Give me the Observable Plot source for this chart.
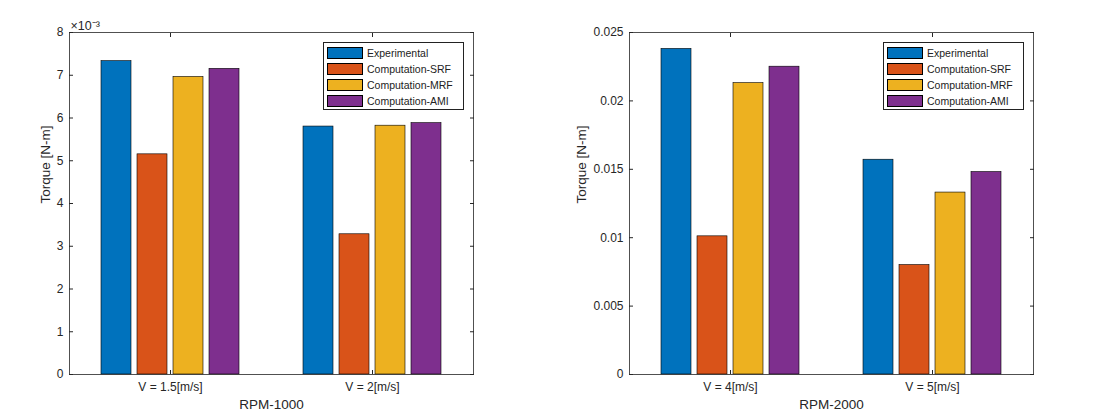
<!DOCTYPE html>
<html><head><meta charset="utf-8">
<script src="https://cdn.jsdelivr.net/npm/d3@7"></script>
<script src="https://cdn.jsdelivr.net/npm/@observablehq/plot@0.6"></script>
<style>
body{margin:0;background:#fff;font-family:"Liberation Sans",Arial,sans-serif;}
#wrap{display:flex;width:1120px;height:420px;}
.panel{position:relative;width:560px;height:420px;}
.legend{position:absolute;left:323px;top:42px;width:133px;height:62px;border:1px solid #222;background:#fff;padding:2px 3px;color:#222;font-size:10.5px;}
.legend .row{display:flex;align-items:center;height:16px;}
.legend .sw{width:36px;height:12px;border:0.6px solid #000;margin-right:4px;box-sizing:border-box;}
</style></head><body><div id="wrap"></div>
<script>
const seriesNames = ["Experimental","Computation-SRF","Computation-MRF","Computation-AMI"];
const seriesColors = ["#0072BD","#D95319","#EDB120","#7E2F8E"];

const groupsA = ["V = 1.5[m/s]","V = 2[m/s]"];
const experimentalA = [0.00733, 0.00580];
const srfA = [0.00515, 0.00328];
const mrfA = [0.00696, 0.00582];
const amiA = [0.00715, 0.00588];
const yTicksA = [0,0.001,0.002,0.003,0.004,0.005,0.006,0.007,0.008];

const groupsB = ["V = 4[m/s]","V = 5[m/s]"];
const experimentalB = [0.0238, 0.0157];
const srfB = [0.0101, 0.0080];
const mrfB = [0.0213, 0.0133];
const amiB = [0.0225, 0.0148];
const yTicksB = [0,0.005,0.01,0.015,0.02,0.025];

function panel(groups, vals, yTicks, fmt, xLabel, yLabelOffset, exponent){
  const rows = [];
  groups.forEach((g,i)=> seriesNames.forEach((s,j)=> rows.push({group:g, series:s, value: vals[j][i]})));
  const marks = [
    Plot.barY(rows,{fx:"group", x:"series", y:"value", fill:"series", stroke:"#000", strokeWidth:0.6}),
    Plot.frame({facet:"super", stroke:"#262626", strokeWidth:0.8}),
    Plot.axisY({anchor:"left", ticks:yTicks, tickSize:-4, tickFormat:()=>"", label:null, stroke:"#262626"}),
    Plot.axisY({anchor:"right", ticks:yTicks, tickSize:-4, tickFormat:()=>"", label:null, stroke:"#262626"}),
    Plot.axisY({anchor:"left", ticks:yTicks, tickSize:0, tickPadding:6, tickFormat:fmt, label:null, fill:"#262626"}),
    Plot.axisFx({anchor:"bottom", tickSize:-4, tickFormat:()=>"", label:null, stroke:"#262626"}),
    Plot.axisFx({anchor:"top", tickSize:-4, tickFormat:()=>"", label:null, stroke:"#262626"}),
    Plot.axisFx({anchor:"bottom", tickSize:0, tickPadding:8, label:null, fill:"#262626"}),
    Plot.text(["Torque [N-m]"], {facet:"super", frameAnchor:"left", text:d=>d, rotate:-90, dx:-yLabelOffset, fontSize:13.5, fill:"#262626"}),
    Plot.text([xLabel], {facet:"super", frameAnchor:"bottom", text:d=>d, dy:34, fontSize:13.5, fill:"#262626"})
  ];
  if (exponent) marks.push(Plot.text([exponent], {facet:"super", frameAnchor:"top-left", text:d=>d, textAnchor:"start", dy:-11, dx:1, fontSize:12.5, fill:"#262626"}));
  const chart = Plot.plot({
    width:560, height:420,
    marginLeft:68, marginRight:87, marginTop:32, marginBottom:46,
    style:{fontFamily:"Liberation Sans, Arial, sans-serif", fontSize:"12px", background:"#fff", color:"#262626"},
    fx:{domain:groups, padding:0},
    x:{domain:seriesNames, axis:null, paddingInner:0.18, paddingOuter:0.85},
    y:{domain:[yTicks[0], yTicks[yTicks.length-1]], axis:null},
    color:{domain:seriesNames, range:seriesColors},
    marks
  });
  const div = document.createElement("div");
  div.className = "panel";
  div.appendChild(chart);
  const lg = document.createElement("div");
  lg.className = "legend";
  seriesNames.forEach((s,i)=>{
    const r = document.createElement("div"); r.className="row";
    const sw = document.createElement("div"); sw.className="sw"; sw.style.background = seriesColors[i];
    const t = document.createElement("span"); t.textContent = s;
    r.appendChild(sw); r.appendChild(t); lg.appendChild(r);
  });
  div.appendChild(lg);
  return div;
}
const wrap = document.getElementById("wrap");
wrap.appendChild(panel(groupsA, [experimentalA, srfA, mrfA, amiA], yTicksA, d=>String(Math.round(d*1000)), "RPM-1000", 24, "×10⁻³"));
wrap.appendChild(panel(groupsB, [experimentalB, srfB, mrfB, amiB], yTicksB, d=>String(+d.toFixed(3)), "RPM-2000", 48, null));
</script></body></html>
